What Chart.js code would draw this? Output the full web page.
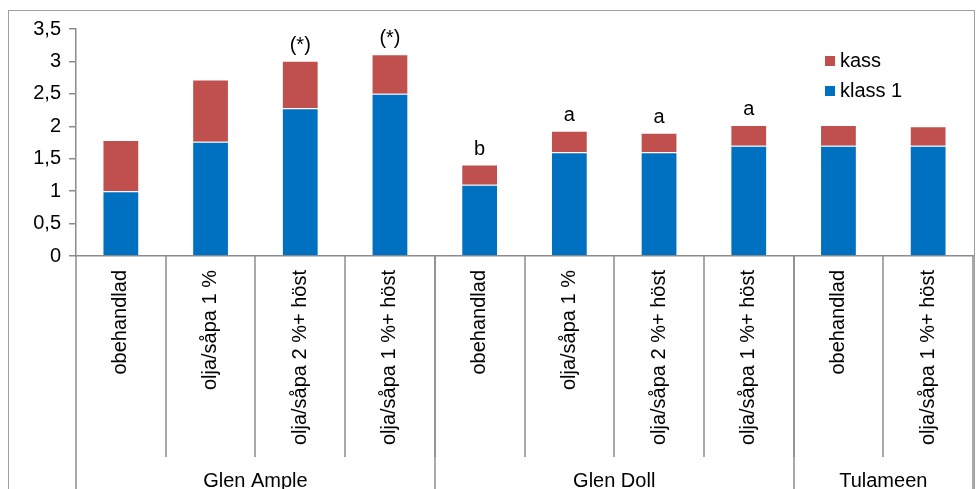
<!DOCTYPE html>
<html>
<head>
<meta charset="utf-8">
<script src="https://cdn.jsdelivr.net/npm/chart.js@4"></script>
<style>
  html, body { margin: 0; padding: 0; background: #fff; }
  #wrap { width: 976px; height: 489px; }
</style>
</head>
<body>
<div id="wrap"><canvas id="yieldChart" width="976" height="489"></canvas></div>
<script>
const treatments = [
  "obehandlad", "olja/såpa 1 %", "olja/såpa 2 %+ höst", "olja/såpa 1 %+ höst",
  "obehandlad", "olja/såpa 1 %", "olja/såpa 2 %+ höst", "olja/såpa 1 %+ höst",
  "obehandlad", "olja/såpa 1 %+ höst"
];
const varieties = ["Glen Ample", "Glen Doll", "Tulameen"];
const varietySizes = [4, 4, 2];
const klass1 = [1.0, 1.76, 2.28, 2.5, 1.1, 1.6, 1.6, 1.7, 1.7, 1.7];
const kass = [0.79, 0.96, 0.73, 0.61, 0.31, 0.33, 0.3, 0.32, 0.32, 0.3];
const marks = ["", "", "(*)", "(*)", "b", "a", "a", "a", "", ""];
const yTicks = [0, 0.5, 1, 1.5, 2, 2.5, 3, 3.5];

const FONT = "'Liberation Sans', Arial, sans-serif";
const GREY = "#8c8c8c";

// frame, separators, group names, letters over bars, legend
const extrasPlugin = {
  id: "extras",
  beforeDraw(chart) {
    const ctx = chart.ctx;
    ctx.save();
    ctx.strokeStyle = "#a0a0a0";
    ctx.lineWidth = 1;
    ctx.strokeRect(8.5, 10.5, 966, 520);
    ctx.restore();
  },
  afterDraw(chart) {
    const ctx = chart.ctx;
    const x = chart.scales.x;
    const y = chart.scales.y;
    const step = x.width / treatments.length;
    const axisY = y.getPixelForValue(0);
    ctx.save();
    ctx.strokeStyle = GREY;
    ctx.lineWidth = 1.5;
    // category separators
    for (let i = 1; i < treatments.length; i++) {
      const px = Math.round(x.getPixelForValue(i) - step / 2);
      ctx.beginPath();
      ctx.moveTo(px, axisY);
      ctx.lineTo(px, 457);
      ctx.stroke();
    }
    // variety separators and names
    let start = 0;
    ctx.fillStyle = "#000";
    ctx.font = "20px " + FONT;
    ctx.textAlign = "center";
    ctx.textBaseline = "alphabetic";
    const edges = [0];
    varietySizes.forEach((n) => { start += n; edges.push(start); });
    edges.forEach((e) => {
      const px = Math.round(x.getPixelForValue(e) - step / 2);
      ctx.beginPath();
      ctx.moveTo(px, axisY);
      ctx.lineTo(px, chart.height);
      ctx.stroke();
    });
    varieties.forEach((name, k) => {
      const a = x.getPixelForValue(edges[k]) - step / 2;
      const b = x.getPixelForValue(edges[k + 1]) - step / 2;
      ctx.fillText(name, (a + b) / 2, 487);
    });
    // letters over bars
    marks.forEach((m, i) => {
      if (!m) return;
      const top = y.getPixelForValue(klass1[i] + kass[i]);
      ctx.fillText(m, x.getPixelForValue(i), top - 10);
    });
    // legend
    const items = [chart.data.datasets[1], chart.data.datasets[0]];
    ctx.textAlign = "left";
    ctx.textBaseline = "middle";
    items.forEach((ds, k) => {
      const cy = 61 + k * 30;
      ctx.fillStyle = ds.backgroundColor;
      ctx.fillRect(825, cy - 5, 10, 10);
      ctx.fillStyle = "#000";
      ctx.fillText(ds.label, 840, cy);
    });
    ctx.restore();
  }
};

new Chart(document.getElementById("yieldChart"), {
  type: "bar",
  data: {
    labels: treatments,
    datasets: [
      { label: "klass 1", data: klass1, backgroundColor: "#0070C0", borderColor: "rgba(255,255,255,0.35)", borderWidth: 1 },
      { label: "kass", data: kass, backgroundColor: "#C0504D", borderColor: "rgba(255,255,255,0.35)", borderWidth: 1 }
    ]
  },
  options: {
    responsive: false,
    animation: false,
    layout: { padding: { left: 8, top: 29, right: 3, bottom: 0 } },
    barPercentage: 0.41,
    categoryPercentage: 1,
    plugins: {
      legend: { display: false },
      tooltip: { enabled: false }
    },
    scales: {
      x: {
        stacked: true,
        grid: { display: false, drawTicks: false },
        border: { display: true, color: GREY, width: 1.5 },
        ticks: {
          autoSkip: false,
          minRotation: 90,
          maxRotation: 90,
          padding: 14,
          color: "#000",
          font: { family: FONT, size: 20 }
        },
        afterFit(scale) { scale.height = 233; }
      },
      y: {
        stacked: true,
        min: 0,
        max: 3.5,
        afterBuildTicks(scale) { scale.ticks = yTicks.map((v) => ({ value: v })); },
        grid: { drawOnChartArea: false, drawTicks: true, tickLength: 7, color: GREY, lineWidth: 1.5 },
        border: { display: true, color: GREY, width: 1.5 },
        ticks: {
          padding: 8,
          color: "#000",
          font: { family: FONT, size: 20 },
          callback: (v) => String(v).replace(".", ",")
        },
        afterFit(scale) { scale.width = 68; }
      }
    }
  },
  plugins: [extrasPlugin]
});
</script>
</body>
</html>
